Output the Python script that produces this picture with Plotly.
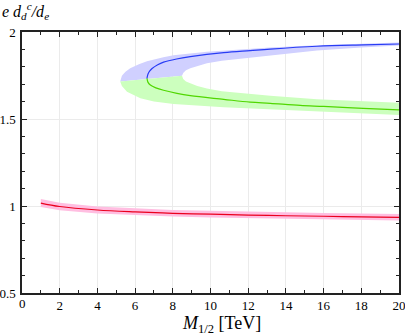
import plotly.graph_objects as go

# red curve with its band
red_x = [1, 2, 4, 6, 8, 10, 12, 14, 16, 18, 20]
red_y = [1.017, 0.997, 0.977, 0.966, 0.958, 0.953, 0.948, 0.944, 0.941, 0.938, 0.935]
red_err = [0.023, 0.021, 0.02, 0.02, 0.019, 0.019, 0.019, 0.019, 0.019, 0.019, 0.019]

# blue (upper) and green (lower) branches
blue_x = [6.63, 6.68, 6.78, 6.9, 7.2, 7.51, 8.2, 8.93, 10.7, 12.1, 13.17, 15.65, 18.1, 20]
blue_y = [1.734, 1.757, 1.776, 1.79, 1.812, 1.827, 1.845, 1.858, 1.881, 1.893, 1.902, 1.918, 1.926, 1.931]
green_x = [6.63, 6.68, 6.81, 7.1, 7.51, 8.22, 8.93, 10.7, 12.1, 13.17, 14.76, 16.0, 18.1, 20]
green_y = [1.734, 1.712, 1.695, 1.679, 1.665, 1.647, 1.634, 1.613, 1.597, 1.59, 1.578, 1.572, 1.561, 1.553]

# band edges around the branches
outer_up_x = [5.21, 5.3, 5.49, 5.74, 6.2, 6.63, 7.5, 8.04, 9.81, 11.58, 13.17, 15.65, 18.0, 20]
outer_up_y = [1.716, 1.748, 1.772, 1.791, 1.815, 1.832, 1.855, 1.866, 1.887, 1.9, 1.911, 1.924, 1.933, 1.939]
inner_up_x = [8.49, 8.55, 8.7, 8.93, 9.3, 9.81, 10.6, 11.58, 13.17, 15.65, 18.0, 20]
inner_up_y = [1.748, 1.765, 1.78, 1.792, 1.806, 1.82, 1.835, 1.849, 1.866, 1.893, 1.911, 1.922]
outer_lo_x = [5.21, 5.3, 5.57, 6.28, 7.0, 8.04, 10.7, 13.17, 16.0, 18.0, 20]
outer_lo_y = [1.716, 1.69, 1.657, 1.619, 1.6, 1.586, 1.567, 1.555, 1.542, 1.532, 1.523]
inner_lo_x = [8.49, 8.55, 8.7, 8.93, 9.3, 9.81, 10.6, 11.58, 13.17, 15.65, 18.0, 20]
inner_lo_y = [1.748, 1.73, 1.716, 1.705, 1.69, 1.676, 1.66, 1.648, 1.633, 1.614, 1.602, 1.594]

x_ticks = [0, 2, 4, 6, 8, 10, 12, 14, 16, 18, 20]
y_ticks = [0.5, 1, 1.5, 2]
y_ticktext = ["0.5", "1", "1.5", "2"]

FONT = "Liberation Serif"

fig = go.Figure()

# bands
fig.add_trace(go.Scatter(
    x=outer_up_x + inner_up_x[::-1], y=outer_up_y + inner_up_y[::-1],
    fill="toself", fillcolor="rgb(208,208,255)", mode="lines",
    line=dict(width=0), hoverinfo="skip", showlegend=False))
fig.add_trace(go.Scatter(
    x=outer_lo_x + inner_lo_x[::-1], y=outer_lo_y + inner_lo_y[::-1],
    fill="toself", fillcolor="rgb(204,255,190)", mode="lines",
    line=dict(width=0), hoverinfo="skip", showlegend=False))
red_hi = [y + e for y, e in zip(red_y, red_err)]
red_lo = [y - e for y, e in zip(red_y, red_err)]
fig.add_trace(go.Scatter(
    x=red_x + red_x[::-1], y=red_hi + red_lo[::-1],
    fill="toself", fillcolor="rgb(255,190,225)", mode="lines",
    line=dict(width=0), hoverinfo="skip", showlegend=False))

# lines
fig.add_trace(go.Scatter(x=blue_x, y=blue_y, mode="lines", line=dict(color="rgb(40,60,245)", width=1.2, shape="spline"), showlegend=False))
fig.add_trace(go.Scatter(x=green_x, y=green_y, mode="lines", line=dict(color="rgb(80,215,0)", width=1.2, shape="spline"), showlegend=False))
fig.add_trace(go.Scatter(x=red_x, y=red_y, mode="lines", line=dict(color="rgb(235,0,30)", width=1.2, shape="spline"), showlegend=False))

axis_common = dict(
    ticks="inside", ticklen=5, tickwidth=1, tickcolor="#222",
    showline=True, linecolor="#222", linewidth=1.5, mirror="ticks",
    showgrid=True, gridcolor="#ebebeb", gridwidth=1, zeroline=False,
    automargin=False, ticklabeloverflow="allow",
    tickfont=dict(family=FONT, size=13, color="black"),
)

# plotly drops the corner label at x = 0; it is drawn as an annotation below
fig.update_xaxes(range=[0, 20], tickvals=x_ticks, ticktext=[""] + [str(v) for v in x_ticks[1:]],
                 minor=dict(dtick=1, tick0=0, ticks="inside", ticklen=3, tickcolor="#222", showgrid=False),
                 **axis_common)
fig.update_yaxes(range=[0.5, 2], tickvals=y_ticks, ticktext=y_ticktext,
                 minor=dict(dtick=0.1, tick0=0.5, ticks="inside", ticklen=3, tickcolor="#222", showgrid=False),
                 ticklabelstandoff=2,
                 **axis_common)

fig.add_annotation(
    text=str(x_ticks[0]), xref="paper", yref="paper", x=0, y=0,
    xanchor="center", yanchor="top", yshift=-1, showarrow=False,
    font=dict(family=FONT, size=13, color="black"))

# axis titles
fig.add_annotation(
    text="<i>M</i><sub>1/2</sub> [TeV]",
    xref="paper", yref="paper", x=0.53, y=0, xanchor="center", yanchor="top",
    yshift=-18, showarrow=False,
    font=dict(family=FONT, size=18, color="black"))
fig.add_annotation(
    text="<i>e d</i><sub><i>d</i></sub><sup><i>c</i></sup><i>/d</i><sub><i>e</i></sub>",
    xref="paper", yref="paper", x=0, y=1, xanchor="left", yanchor="bottom",
    xshift=-22, yshift=8, showarrow=False,
    font=dict(family=FONT, size=16, color="black"))

fig.update_layout(
    width=405, height=336,
    margin=dict(l=22, r=6, t=32, b=43),
    plot_bgcolor="white", paper_bgcolor="white",
)

fig.write_html("out.html", config={"displayModeBar": False},
               post_script="document.body.style.margin='0';")
